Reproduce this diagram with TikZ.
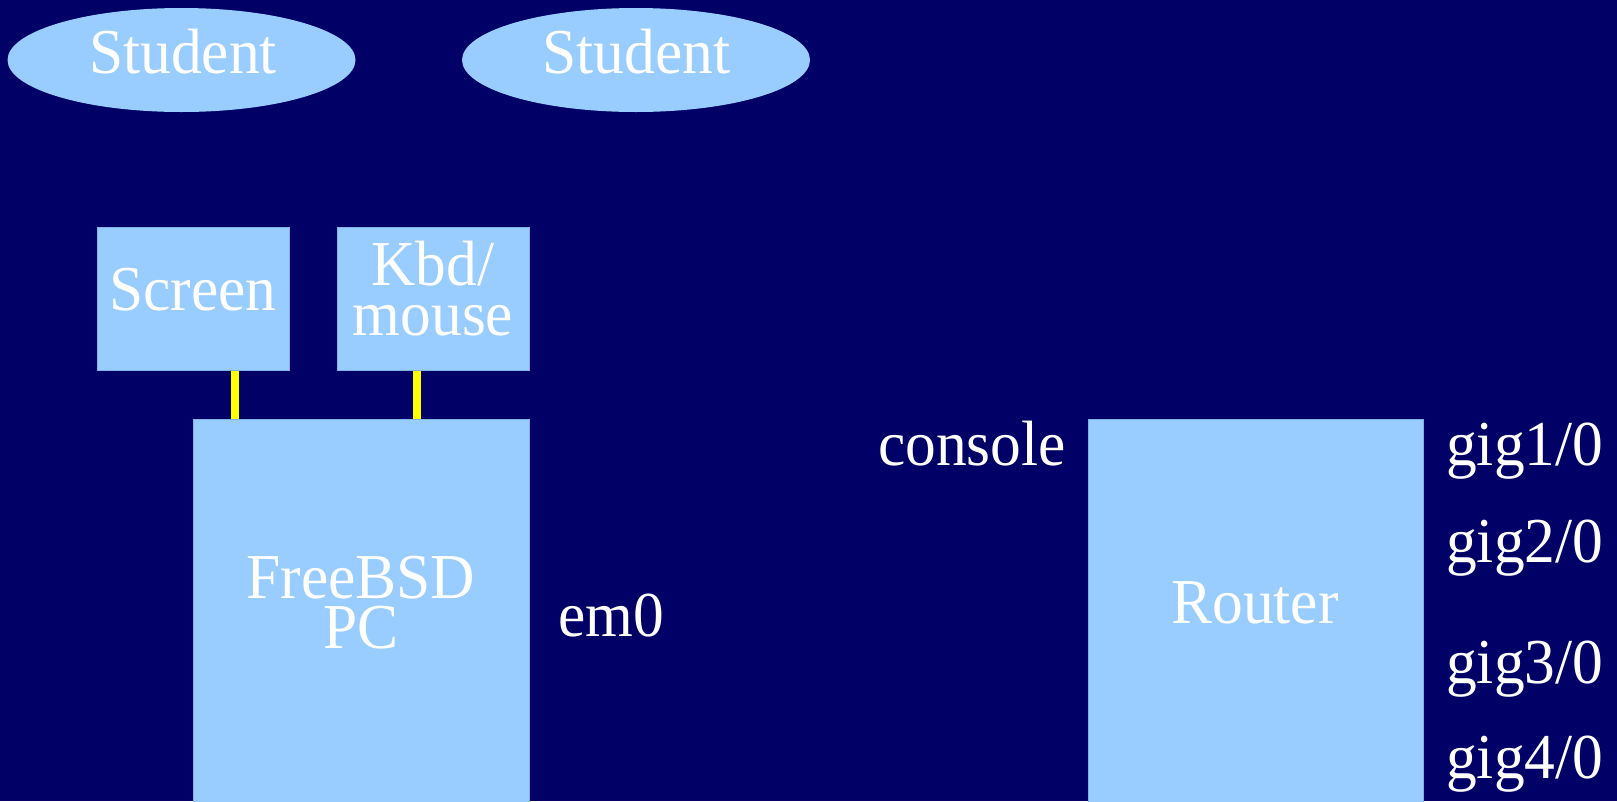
\documentclass[tikz,border=0pt]{standalone}
\usepackage{fontspec}
\setmainfont[FakeStretch=0.96]{Liberation Serif}
\usetikzlibrary{shapes.geometric}
\definecolor{bg}{HTML}{000066}
\definecolor{boxfill}{HTML}{99CCFF}
\definecolor{boxedge}{HTML}{7FB0E6}
\definecolor{cableyellow}{HTML}{FFFF00}
\begin{document}
\begin{tikzpicture}[x=1pt,y=-1pt,
  box/.style={rectangle, fill=boxfill, draw=boxedge, line width=0.8pt, inner sep=0pt, anchor=north west},
  oval/.style={ellipse, fill=boxfill, inner sep=0pt, minimum width=348pt, minimum height=104pt},
  lbl/.style={text=white, inner sep=0pt, font=\fontsize{64}{50}\selectfont},
  cable/.style={draw=cableyellow, line width=8pt}]
\fill[bg] (0,0) rectangle (1617,801);
\useasboundingbox (0,0) rectangle (1617,801);

% students
\node[oval] (stu1) at (181.5,60) {};
\node[oval] (stu2) at (636,60) {};
\node[lbl, anchor=base] (stu1t) at (183,73) {Student};
\node[lbl, anchor=base] (stu2t) at (636.5,73) {Student};

% peripherals
\node[box, minimum width=192pt, minimum height=143pt] (screen) at (97,227) {};
\node[box, minimum width=192pt, minimum height=143pt] (kbd) at (337,227) {};
\node[lbl, anchor=base] (screent) at (193,310) {Screen};
\node[lbl, anchor=base] (kbdt1) at (433,285) {Kbd/};
\node[lbl, anchor=base] (kbdt2) at (433,335) {mouse};

% PC
\node[box, minimum width=336pt, minimum height=390pt] (pc) at (193,419) {};
\node[lbl, anchor=base] (pct1) at (361,598) {FreeBSD};
\node[lbl, anchor=base] (pct2) at (361,648) {PC};
\node[lbl, anchor=base west] (em0) at (558,636) {em0};

% cables
\draw[cable] ([xshift=42pt]screen.south) -- ([xshift=42pt]screen.south |- pc.north);
\draw[cable] ([xshift=-16pt]kbd.south) -- ([xshift=-16pt]kbd.south |- pc.north);

% router
\node[box, minimum width=335pt, minimum height=390pt] (router) at (1088,419) {};
\node[lbl, anchor=base] (routert) at (1255,623) {Router};
\node[lbl, anchor=base east] (console) at (1066,465) {console};
\node[lbl, anchor=base west] (gig1) at (1446,465) {gig1/0};
\node[lbl, anchor=base west] (gig2) at (1446,562) {gig2/0};
\node[lbl, anchor=base west] (gig3) at (1446,683) {gig3/0};
\node[lbl, anchor=base west] (gig4) at (1446,778) {gig4/0};
\end{tikzpicture}
\end{document}
